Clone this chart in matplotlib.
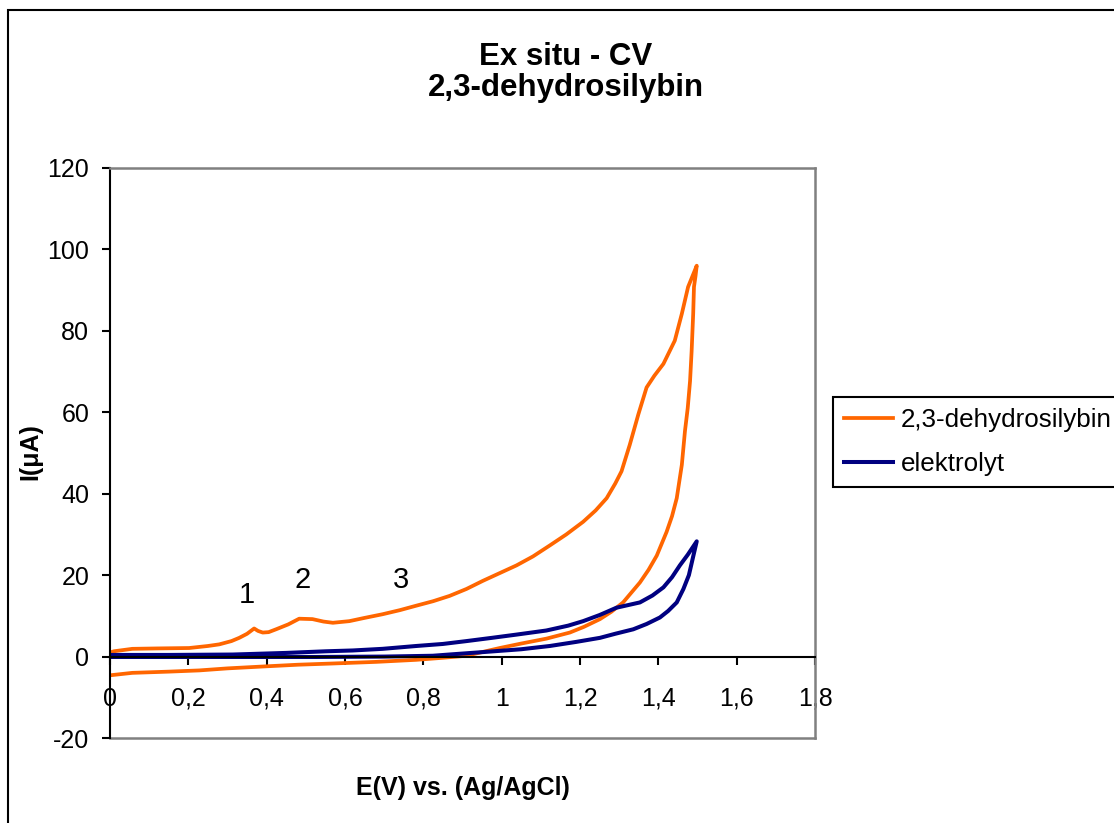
import matplotlib
matplotlib.use('Agg')
import matplotlib.pyplot as plt
from matplotlib.patches import Rectangle

plt.rcParams['font.family'] = ['Liberation Sans', 'DejaVu Sans']
plt.rcParams['axes.unicode_minus'] = False

# 2,3-dehydrosilybin: forward scan then reverse scan (E in V, I in uA)
dhs_E = [0.000, 0.010, 0.057, 0.120, 0.202, 0.250, 0.279, 0.310, 0.330, 0.350,
         0.368, 0.378, 0.390, 0.405, 0.424, 0.455, 0.483, 0.517, 0.545, 0.569,
         0.611, 0.650, 0.696, 0.740, 0.782, 0.825, 0.867, 0.910, 0.952, 0.995,
         1.038, 1.080, 1.123, 1.165, 1.208, 1.240, 1.268, 1.290, 1.306, 1.327,
         1.349, 1.370, 1.390, 1.413, 1.442, 1.460, 1.476, 1.498,
         1.495, 1.491, 1.489, 1.485, 1.481, 1.475, 1.468, 1.460, 1.447, 1.435,
         1.421, 1.396, 1.375, 1.353, 1.310, 1.280, 1.251, 1.210, 1.174, 1.114,
         1.050, 0.995, 0.950, 0.910, 0.850, 0.782, 0.680, 0.569, 0.480, 0.398,
         0.300, 0.228, 0.150, 0.057, 0.000]
dhs_I = [1.0, 1.3, 1.9, 2.0, 2.1, 2.6, 3.0, 3.8, 4.6, 5.6,
         6.9, 6.3, 5.9, 6.0, 6.7, 7.9, 9.3, 9.2, 8.6, 8.3,
         8.7, 9.5, 10.4, 11.4, 12.5, 13.6, 14.9, 16.6, 18.6, 20.5,
         22.4, 24.6, 27.3, 30.0, 33.1, 35.9, 38.9, 42.5, 45.5, 52.0,
         59.5, 66.1, 69.0, 71.9, 77.6, 84.2, 90.8, 96.0,
         93.5, 90.8, 84.2, 75.0, 67.7, 61.0, 55.4, 47.1, 38.9, 34.5,
         30.6, 24.8, 21.3, 18.2, 13.3, 11.0, 9.2, 7.3, 5.9, 4.4,
         3.2, 2.1, 1.1, 0.2, -0.3, -0.8, -1.3, -1.7, -2.0, -2.4,
         -2.9, -3.4, -3.7, -4.0, -4.6]

# elektrolyt (blank)
ele_E = [0.000, 0.150, 0.313, 0.450, 0.552, 0.620, 0.696, 0.782, 0.850, 0.910,
         0.975, 1.038, 1.114, 1.170, 1.208, 1.250, 1.293, 1.353, 1.385, 1.413,
         1.435, 1.455, 1.475, 1.498,
         1.490, 1.478, 1.464, 1.447, 1.425, 1.404, 1.370, 1.336, 1.290, 1.251,
         1.190, 1.123, 1.050, 0.952, 0.880, 0.824, 0.700, 0.526, 0.300, 0.000]
ele_I = [0.4, 0.4, 0.5, 0.9, 1.3, 1.5, 1.9, 2.6, 3.1, 3.8,
         4.6, 5.4, 6.4, 7.6, 8.7, 10.2, 12.0, 13.3, 15.0, 17.0,
         19.5, 22.4, 25.0, 28.3,
         25.0, 20.0, 16.6, 13.3, 11.2, 9.6, 8.0, 6.7, 5.6, 4.6,
         3.6, 2.6, 1.8, 1.1, 0.6, 0.2, 0.0, -0.1, -0.1, -0.1]

# peak labels
peak_labels = ['1', '2', '3']
peak_E = [0.350, 0.492, 0.742]
peak_I = [15.0, 18.9, 18.9]

x_ticks = [0, 0.2, 0.4, 0.6, 0.8, 1.0, 1.2, 1.4, 1.6, 1.8]
x_ticklabels = ['0', '0,2', '0,4', '0,6', '0,8', '1', '1,2', '1,4', '1,6', '1,8']
y_ticks = [-20, 0, 20, 40, 60, 80, 100, 120]

W, H = 1114, 823
fig = plt.figure(figsize=(W / 100, H / 100), dpi=100)
ax = fig.add_axes([110 / W, 1 - 738 / H, 705 / W, 570 / H])

ax.plot(dhs_E, dhs_I, color='#FF6600', lw=2.7, label='2,3-dehydrosilybin')
ax.plot(ele_E, ele_I, color='#000080', lw=2.9, label='elektrolyt')

for lab, e, i in zip(peak_labels, peak_E, peak_I):
    ax.text(e, i, lab, ha='center', va='center', fontsize=21)

ax.set_xlim(0, 1.8)
ax.set_ylim(-20, 120)
ax.set_xticks(x_ticks)
ax.set_xticklabels(x_ticklabels)
ax.set_yticks(y_ticks)

ax.spines['bottom'].set_position(('data', 0))
ax.spines['bottom'].set_color('black')
ax.spines['bottom'].set_linewidth(1.5)
ax.spines['left'].set_color('black')
ax.spines['left'].set_linewidth(1.5)
for s in ['top', 'right']:
    ax.spines[s].set_color('#808080')
    ax.spines[s].set_linewidth(1.8)
ax.axhline(-20, color='#808080', lw=1.8, clip_on=False)

ax.tick_params(axis='x', direction='out', length=6, width=1.5, pad=15.6, labelsize=18)
ax.tick_params(axis='y', direction='out', length=6, width=1.5, pad=9, labelsize=18)

fig.text(566 / W, 1 - 65 / H, 'Ex situ - CV', ha='center', va='baseline',
         fontsize=22.5, fontweight='bold')
fig.text(566 / W, 1 - 96 / H, '2,3-dehydrosilybin', ha='center', va='baseline',
         fontsize=22.5, fontweight='bold')
fig.text(462.5 / W, 1 - 795 / H, 'E(V) vs. (Ag/AgCl)', ha='center', va='baseline',
         fontsize=18, fontweight='bold')
fig.text(30 / W, 1 - 452 / H, 'I(μA)', ha='center', va='center', rotation=90,
         fontsize=18, fontweight='bold')

leg = fig.legend(loc='upper left', bbox_to_anchor=(833 / W, 1 - 397 / H),
                 frameon=True, fancybox=False, edgecolor='black', framealpha=1,
                 borderaxespad=0, fontsize=18.7, handlelength=1.9,
                 handletextpad=0.3, borderpad=0.42, labelspacing=0.78)
leg.get_frame().set_linewidth(1.5)

# outer chart border
fig.patches.append(Rectangle((8 / W, -0.1), 1.2, 1.1 - 10 / H, fill=False,
                             edgecolor='black', lw=1.5, transform=fig.transFigure))

fig.savefig('out.png', dpi=100)
